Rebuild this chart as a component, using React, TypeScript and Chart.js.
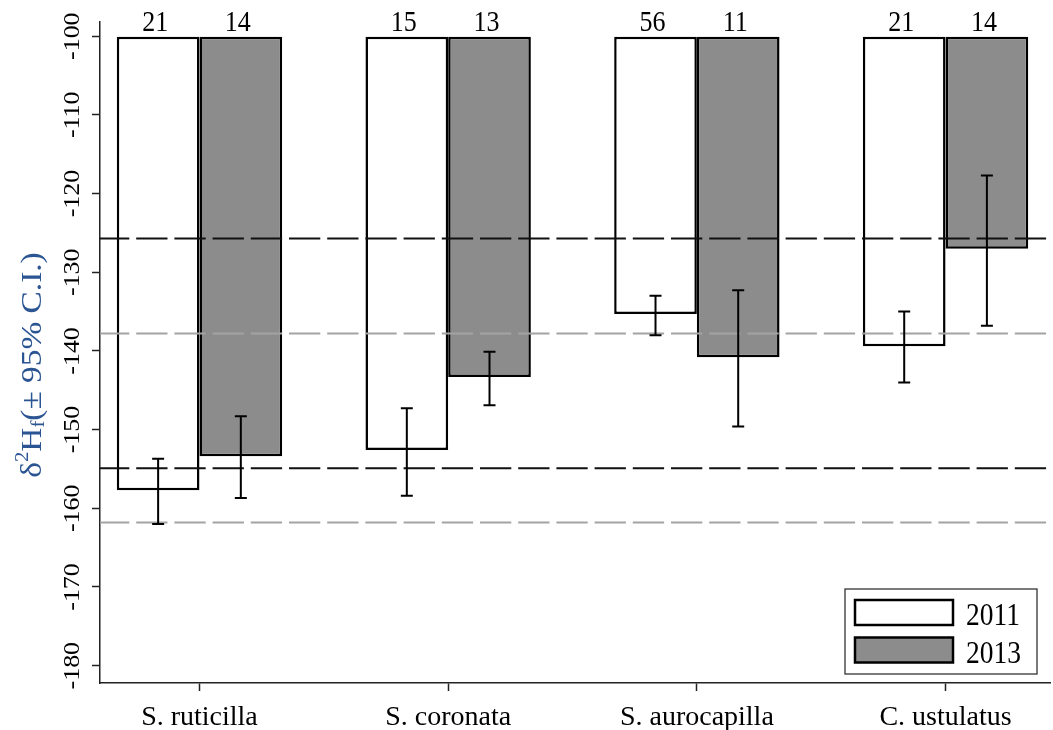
import React, { useEffect, useRef } from "react";
import { Chart, registerables } from "chart.js";

Chart.register(...registerables);

// ---- data ----
const categories = ["S. ruticilla", "S. coronata", "S. aurocapilla", "C. ustulatus"];
const seriesLabels = ["2011", "2013"];
const mean2011 = [-157.7, -152.6, -135.3, -139.4];
const mean2013 = [-153.4, -143.3, -140.8, -127.0];
const lower2011 = [-162.0, -158.4, -138.0, -144.0];
const upper2011 = [-153.7, -147.3, -133.0, -135.0];
const lower2013 = [-158.7, -146.9, -149.6, -136.8];
const upper2013 = [-148.3, -140.1, -132.3, -117.7];
const count2011 = [21, 15, 56, 21];
const count2013 = [14, 13, 11, 14];
const yTickValues = [-180, -170, -160, -150, -140, -130, -120, -110, -100];
const blackRefLines = [-125.7, -154.9];
const grayRefLines = [-137.8, -161.8];
const barBase = -100;
const yMin = -182.2;
const yMax = -98.2;

const FONT = "'Liberation Serif', 'Times New Roman', serif";
const SY = 1.15;

function drawText(
  ctx: CanvasRenderingContext2D,
  text: string,
  x: number,
  y: number,
  size: number,
  align: CanvasTextAlign,
  baseline: CanvasTextBaseline,
  color: string,
  rotated = false
) {
  ctx.save();
  ctx.translate(x, y);
  if (rotated) {
    ctx.rotate(-Math.PI / 2);
    ctx.scale(SY, 1);
  } else {
    ctx.scale(1, SY);
  }
  ctx.font = `${size}px ${FONT}`;
  ctx.fillStyle = color;
  ctx.textAlign = align;
  ctx.textBaseline = baseline;
  ctx.fillText(text, 0, 0);
  ctx.restore();
}

const overlayPlugin = {
  id: "overlay",
  afterDatasetsDraw(chart: any) {
    const ctx: CanvasRenderingContext2D = chart.ctx;
    const area = chart.chartArea;
    const yScale = chart.scales.y;

    // reference dashed lines
    ctx.save();
    ctx.setLineDash([31.3, 6.9]);
    ctx.lineDashOffset = 2;
    ctx.lineWidth = 2;
    ctx.strokeStyle = "#a3a3a3";
    grayRefLines.forEach((v) => {
      const y = yScale.getPixelForValue(v);
      ctx.beginPath();
      ctx.moveTo(area.left, y);
      ctx.lineTo(area.right, y);
      ctx.stroke();
    });
    ctx.strokeStyle = "#111";
    blackRefLines.forEach((v) => {
      const y = yScale.getPixelForValue(v);
      ctx.beginPath();
      ctx.moveTo(area.left, y);
      ctx.lineTo(area.right, y);
      ctx.stroke();
    });
    ctx.restore();

    // error bars
    const lows = [lower2011, lower2013];
    const highs = [upper2011, upper2013];
    const counts = [count2011, count2013];
    ctx.save();
    ctx.strokeStyle = "#000";
    ctx.lineWidth = 2;
    chart.data.datasets.forEach((_: any, di: number) => {
      const meta = chart.getDatasetMeta(di);
      meta.data.forEach((bar: any, i: number) => {
        const x = bar.x;
        const yl = yScale.getPixelForValue(lows[di][i]);
        const yh = yScale.getPixelForValue(highs[di][i]);
        ctx.beginPath();
        ctx.moveTo(x, yl);
        ctx.lineTo(x, yh);
        ctx.moveTo(x - 6, yl);
        ctx.lineTo(x + 6, yl);
        ctx.moveTo(x - 6, yh);
        ctx.lineTo(x + 6, yh);
        ctx.stroke();
        // sample size labels
        const top = yScale.getPixelForValue(barBase);
        drawText(ctx, String(counts[di][i]), x - 3, top - 5, 26, "center", "alphabetic", "#000");
      });
    });
    ctx.restore();

    // y tick labels (rotated)
    yTickValues.forEach((v) => {
      const y = yScale.getPixelForValue(v);
      drawText(ctx, String(v), 73, y, 22.5, "center", "middle", "#000", true);
    });

    // y title
    ctx.save();
    ctx.translate(33, 365);
    ctx.rotate(-Math.PI / 2);
    ctx.scale(SY, 1);
    ctx.fillStyle = "#2b5592";
    ctx.textBaseline = "middle";
    ctx.textAlign = "left";
    const size = 29;
    const small = Math.round(size * 0.62);
    const parts = [
      { t: "δ", s: size, dy: 0 },
      { t: "2", s: small, dy: -0.33 * size },
      { t: "H", s: size, dy: 0 },
      { t: "f", s: small, dy: 0.22 * size },
      { t: "(± 95% C.I.)", s: size, dy: 0 },
    ];
    let total = 0;
    parts.forEach((p) => {
      ctx.font = `${p.s}px ${FONT}`;
      total += ctx.measureText(p.t).width;
    });
    let cx = -total / 2;
    parts.forEach((p) => {
      ctx.font = `${p.s}px ${FONT}`;
      ctx.fillText(p.t, cx, p.dy);
      cx += ctx.measureText(p.t).width;
    });
    ctx.restore();

    // legend
    const bx = area.right - 205;
    const by = area.bottom - 94;
    const bw = 192;
    const bh = 85;
    ctx.save();
    ctx.fillStyle = "#fff";
    ctx.fillRect(bx, by, bw, bh);
    ctx.strokeStyle = "#333";
    ctx.lineWidth = 1.3;
    ctx.strokeRect(bx, by, bw, bh);
    const fills = ["#ffffff", "#8c8c8c"];
    seriesLabels.forEach((lab, i) => {
      const ry = by + 11 + i * 37.5;
      ctx.fillStyle = fills[i];
      ctx.fillRect(bx + 10, ry, 98, 25);
      ctx.strokeStyle = "#000";
      ctx.lineWidth = 2.5;
      ctx.strokeRect(bx + 10, ry, 98, 25);
      drawText(ctx, lab, bx + 121, ry + 25, 27.5, "left", "alphabetic", "#000");
    });
    ctx.restore();
  },
};

export default function App() {
  const ref = useRef<HTMLCanvasElement | null>(null);
  useEffect(() => {
    document.body.style.margin = "0";
    const canvas = ref.current;
    if (!canvas) return;
    const barStyle = {
      base: barBase,
      borderColor: "#000",
      borderWidth: 2.5,
      borderSkipped: false as const,
      categoryPercentage: 0.665,
      barPercentage: 1,
    };
    const chart = new Chart(canvas, {
      type: "bar",
      data: {
        datasets: [
          {
            label: seriesLabels[0],
            data: mean2011.map((v, i) => ({ x: i, y: v })),
            backgroundColor: "#ffffff",
            ...barStyle,
          },
          {
            label: seriesLabels[1],
            data: mean2013.map((v, i) => ({ x: i, y: v })),
            backgroundColor: "#8c8c8c",
            ...barStyle,
          },
        ],
      } as any,
      options: {
        responsive: false,
        animation: false,
        layout: { padding: { top: 22, right: 3, left: 0, bottom: 0 } },
        plugins: { legend: { display: false }, tooltip: { enabled: false } },
        scales: {
          x: {
            type: "linear",
            min: -0.4,
            max: 3.42,
            offset: false,
            afterBuildTicks: (s: any) => {
              s.ticks = categories.map((_, i) => ({ value: i }));
            },
            afterFit: (s: any) => {
              s.height = 47;
            },
            ticks: {
              callback: (v: any) => categories[v] ?? "",
              font: { family: FONT, size: 28 },
              color: "#000",
              padding: 10,
              autoSkip: false,
              maxRotation: 0,
            },
            grid: {
              offset: false,
              drawOnChartArea: false,
              drawTicks: true,
              tickLength: 8,
              tickColor: "#222",
              tickWidth: 1.5,
            },
            border: { color: "#222", width: 1.5 },
          },
          y: {
            type: "linear",
            min: yMin,
            max: yMax,
            afterBuildTicks: (s: any) => {
              s.ticks = yTickValues.map((v) => ({ value: v }));
            },
            afterFit: (s: any) => {
              s.width = 100;
            },
            ticks: { display: false },
            grid: {
              drawOnChartArea: false,
              drawTicks: true,
              tickLength: 8,
              tickColor: "#222",
              tickWidth: 1.5,
            },
            border: { color: "#222", width: 1.5 },
          },
        },
      } as any,
      plugins: [overlayPlugin],
    });
    return () => chart.destroy();
  }, []);
  return (
    <canvas
      ref={ref}
      width={1053}
      height={730}
      style={{ display: "block", width: 1053, height: 730 }}
    />
  );
}
